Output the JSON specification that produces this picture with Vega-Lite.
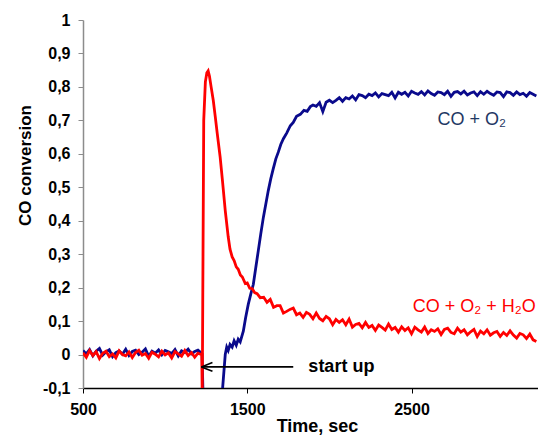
{
  "$schema": "https://vega.github.io/schema/vega-lite/v6.json",
  "width": 455,
  "height": 368,
  "autosize": {"type": "none"},
  "padding": {"left": 83, "top": 20, "right": 0, "bottom": 49},
  "background": "white",
  "config": {
    "view": {"stroke": null},
    "font": "Liberation Sans",
    "axis": {"labelOverlap": false, "labelSeparation": 0}
  },
  "datasets": {
    "blue": [
      {"t":500,"v":0.012},{"t":520,"v":0.002},{"t":540,"v":0.015},{"t":560,"v":-0.004},{"t":580,"v":0.010},{"t":600,"v":0.018},{"t":620,"v":-0.002},{"t":640,"v":0.008},{"t":660,"v":0.014},{"t":680,"v":-0.006},{"t":700,"v":0.006},{"t":720,"v":0.011},{"t":740,"v":0.001},{"t":760,"v":0.016},{"t":780,"v":-0.003},{"t":800,"v":0.009},{"t":820,"v":0.013},{"t":840,"v":0.000},{"t":860,"v":0.007},{"t":880,"v":0.017},{"t":900,"v":-0.005},{"t":920,"v":0.010},{"t":940,"v":0.004},{"t":960,"v":0.014},{"t":980,"v":-0.001},{"t":1000,"v":0.012},{"t":1020,"v":0.008},{"t":1040,"v":0.003},{"t":1060,"v":0.015},{"t":1080,"v":-0.004},{"t":1100,"v":0.011},{"t":1120,"v":0.006},{"t":1140,"v":0.016},{"t":1160,"v":0.002},{"t":1180,"v":0.009},{"t":1200,"v":0.013},{"t":1220,"v":0.005},
      {"t":1225,"v":0.002},{"t":1232,"v":-0.15},{"t":1342,"v":-0.15},{"t":1366,"v":0.0},{"t":1375,"v":0.022},{"t":1384,"v":0.012},{"t":1395,"v":0.030},{"t":1408,"v":0.022},{"t":1420,"v":0.041},{"t":1433,"v":0.028},{"t":1445,"v":0.046},{"t":1457,"v":0.038},{"t":1476,"v":0.07},{"t":1490,"v":0.11},{"t":1506,"v":0.15},{"t":1521,"v":0.18},{"t":1537,"v":0.21},{"t":1552,"v":0.26},{"t":1567,"v":0.31},{"t":1582,"v":0.36},{"t":1598,"v":0.41},{"t":1613,"v":0.45},{"t":1628,"v":0.49},{"t":1643,"v":0.525},{"t":1658,"v":0.555},{"t":1674,"v":0.585},{"t":1689,"v":0.605},{"t":1704,"v":0.628},{"t":1720,"v":0.645},{"t":1740,"v":0.662},{"t":1762,"v":0.684},{"t":1780,"v":0.694},{"t":1800,"v":0.712},{"t":1823,"v":0.718},{"t":1845,"v":0.730},{"t":1865,"v":0.727},{"t":1884,"v":0.741},
      {"t":1900,"v":0.746},{"t":1920,"v":0.742},{"t":1940,"v":0.753},{"t":1960,"v":0.726},{"t":1980,"v":0.754},{"t":2000,"v":0.760},{"t":2020,"v":0.753},{"t":2040,"v":0.760},{"t":2060,"v":0.768},{"t":2080,"v":0.757},{"t":2100,"v":0.768},{"t":2120,"v":0.764},{"t":2140,"v":0.773},{"t":2160,"v":0.761},{"t":2180,"v":0.777},{"t":2200,"v":0.774},{"t":2220,"v":0.768},{"t":2240,"v":0.778},{"t":2260,"v":0.774},{"t":2280,"v":0.782},{"t":2300,"v":0.770},{"t":2320,"v":0.780},{"t":2340,"v":0.777},{"t":2360,"v":0.774},{"t":2380,"v":0.784},{"t":2400,"v":0.767},{"t":2420,"v":0.784},{"t":2440,"v":0.778},{"t":2460,"v":0.784},{"t":2480,"v":0.773},{"t":2500,"v":0.787},{"t":2520,"v":0.782},{"t":2540,"v":0.778},{"t":2560,"v":0.786},{"t":2580,"v":0.776},{"t":2600,"v":0.788},{"t":2620,"v":0.780},{"t":2640,"v":0.775},{"t":2660,"v":0.785},{"t":2680,"v":0.783},{"t":2700,"v":0.777},{"t":2720,"v":0.787},{"t":2740,"v":0.772},{"t":2760,"v":0.784},{"t":2780,"v":0.786},{"t":2800,"v":0.779},{"t":2820,"v":0.787},{"t":2840,"v":0.776},{"t":2860,"v":0.782},{"t":2880,"v":0.785},{"t":2900,"v":0.774},{"t":2920,"v":0.786},{"t":2940,"v":0.778},{"t":2960,"v":0.787},{"t":2980,"v":0.780},{"t":3000,"v":0.775},{"t":3020,"v":0.785},{"t":3040,"v":0.783},{"t":3060,"v":0.771},{"t":3080,"v":0.785},{"t":3100,"v":0.783},{"t":3120,"v":0.775},{"t":3140,"v":0.785},{"t":3160,"v":0.777},{"t":3180,"v":0.781},{"t":3200,"v":0.772},{"t":3220,"v":0.783},{"t":3240,"v":0.778},{"t":3260,"v":0.773}
    ],
    "red": [
      {"t":500,"v":0.005},{"t":520,"v":-0.008},{"t":540,"v":0.012},{"t":560,"v":-0.003},{"t":580,"v":0.009},{"t":600,"v":-0.012},{"t":620,"v":0.004},{"t":640,"v":0.010},{"t":660,"v":-0.006},{"t":680,"v":0.002},{"t":700,"v":-0.010},{"t":720,"v":0.011},{"t":740,"v":0.000},{"t":760,"v":-0.004},{"t":780,"v":0.008},{"t":800,"v":-0.009},{"t":820,"v":0.006},{"t":840,"v":0.013},{"t":860,"v":-0.002},{"t":880,"v":0.003},{"t":900,"v":-0.011},{"t":920,"v":0.007},{"t":940,"v":0.001},{"t":960,"v":-0.007},{"t":980,"v":0.010},{"t":1000,"v":-0.001},{"t":1020,"v":0.005},{"t":1040,"v":-0.010},{"t":1060,"v":0.009},{"t":1080,"v":0.002},{"t":1100,"v":-0.005},{"t":1120,"v":0.012},{"t":1140,"v":-0.003},{"t":1160,"v":0.006},{"t":1180,"v":-0.008},{"t":1200,"v":0.004},{"t":1220,"v":0.000},
      {"t":1223,"v":0.003},{"t":1226,"v":-0.13},{"t":1229,"v":0.15},{"t":1235,"v":0.70},{"t":1245,"v":0.815},{"t":1254,"v":0.842},{"t":1262,"v":0.848},{"t":1270,"v":0.832},{"t":1280,"v":0.80},{"t":1293,"v":0.76},{"t":1305,"v":0.712},{"t":1317,"v":0.662},{"t":1335,"v":0.59},{"t":1348,"v":0.525},{"t":1366,"v":0.43},{"t":1384,"v":0.352},{"t":1395,"v":0.315},{"t":1408,"v":0.292},{"t":1420,"v":0.281},{"t":1433,"v":0.262},{"t":1445,"v":0.255},{"t":1458,"v":0.238},{"t":1470,"v":0.232},{"t":1488,"v":0.212},{"t":1500,"v":0.214},{"t":1515,"v":0.198},{"t":1530,"v":0.197},{"t":1545,"v":0.185},{"t":1560,"v":0.182},{"t":1579,"v":0.170},
      {"t":1600,"v":0.171},{"t":1620,"v":0.156},{"t":1640,"v":0.165},{"t":1660,"v":0.141},{"t":1680,"v":0.146},{"t":1700,"v":0.146},{"t":1720,"v":0.124},{"t":1740,"v":0.129},{"t":1760,"v":0.135},{"t":1780,"v":0.139},{"t":1800,"v":0.119},{"t":1820,"v":0.124},{"t":1840,"v":0.111},{"t":1860,"v":0.126},{"t":1880,"v":0.120},{"t":1900,"v":0.107},{"t":1920,"v":0.124},{"t":1940,"v":0.108},{"t":1960,"v":0.101},{"t":1980,"v":0.114},{"t":2000,"v":0.107},{"t":2020,"v":0.089},{"t":2040,"v":0.105},{"t":2060,"v":0.096},{"t":2080,"v":0.104},{"t":2100,"v":0.089},{"t":2120,"v":0.106},{"t":2140,"v":0.082},{"t":2160,"v":0.090},{"t":2180,"v":0.093},{"t":2200,"v":0.080},{"t":2220,"v":0.096},{"t":2240,"v":0.081},{"t":2260,"v":0.087},{"t":2280,"v":0.072},{"t":2300,"v":0.088},{"t":2320,"v":0.081},{"t":2340,"v":0.073},{"t":2360,"v":0.091},{"t":2380,"v":0.075},{"t":2400,"v":0.081},{"t":2420,"v":0.067},{"t":2440,"v":0.083},{"t":2460,"v":0.072},{"t":2480,"v":0.080},{"t":2500,"v":0.062},{"t":2520,"v":0.082},{"t":2540,"v":0.074},{"t":2560,"v":0.067},{"t":2580,"v":0.082},{"t":2600,"v":0.063},{"t":2620,"v":0.074},{"t":2640,"v":0.069},{"t":2660,"v":0.077},{"t":2680,"v":0.060},{"t":2700,"v":0.075},{"t":2720,"v":0.079},{"t":2740,"v":0.066},{"t":2760,"v":0.062},{"t":2780,"v":0.079},{"t":2800,"v":0.067},{"t":2820,"v":0.074},{"t":2840,"v":0.059},{"t":2860,"v":0.068},{"t":2880,"v":0.075},{"t":2900,"v":0.054},{"t":2920,"v":0.070},{"t":2940,"v":0.062},{"t":2960,"v":0.074},{"t":2980,"v":0.058},{"t":3000,"v":0.065},{"t":3020,"v":0.069},{"t":3040,"v":0.054},{"t":3060,"v":0.066},{"t":3080,"v":0.057},{"t":3100,"v":0.071},{"t":3120,"v":0.058},{"t":3140,"v":0.049},{"t":3160,"v":0.063},{"t":3180,"v":0.059},{"t":3200,"v":0.048},{"t":3220,"v":0.061},{"t":3240,"v":0.044},{"t":3260,"v":0.039}
    ],
    "arrow": [
      {"t":1780,"v":-0.037,"t2":1221,"v2":-0.037},
      {"t":1221,"v":-0.037,"t2":1288,"v2":-0.024},
      {"t":1221,"v":-0.037,"t2":1288,"v2":-0.050}
    ],
    "startup": [{"t":1872,"v":-0.037,"txt":"start up"}],
    "blueLabel": [{"t":2658,"v":0.70,"txt":"CO + O₂"}],
    "redLabel": [{"t":3256,"v":0.142,"txt":"CO + O₂ + H₂O"}]
  },
  "layer": [
    {
      "data": {"name": "blue"},
      "mark": {"type": "line", "color": "#0a0a8c", "strokeWidth": 2.8, "clip": true},
      "encoding": {
        "x": {
          "field": "t", "type": "quantitative",
          "scale": {"domain": [500, 3270], "nice": false, "zero": false},
          "axis": {
            "values": [500, 1500, 2500],
            "format": "d",
            "title": "Time, sec",
            "titleFont": "Liberation Sans", "titleFontSize": 18, "titleFontWeight": "bold", "titleColor": "black",
            "titleX": 234, "titleY": 43, "titleBaseline": "alphabetic", "titleAnchor": null,
            "labelFont": "Liberation Sans", "labelFontSize": 16, "labelFontWeight": "bold", "labelColor": "black",
            "labelPadding": 8, "labelOverlap": false,
            "grid": false, "domainColor": "black", "domainWidth": 1.5, "tickColor": "black", "tickSize": 5,
            "labelFlush": false
          }
        },
        "y": {
          "field": "v", "type": "quantitative",
          "scale": {"domain": [-0.1, 1], "nice": false, "zero": false},
          "axis": {
            "values": [-0.1, 0, 0.1, 0.2, 0.3, 0.4, 0.5, 0.6, 0.7, 0.8, 0.9, 1],
            "tickCount": 12,
            "format": ".1~f",
            "labelExpr": "replace(replace(datum.label, '.', ','), '−', '-')",
            "title": "CO conversion",
            "titleFont": "Liberation Sans", "titleFontSize": 17, "titleFontWeight": "bold", "titleColor": "black",
            "titleX": -53, "titleY": 145, "titleAngle": -90, "titleAlign": "center", "titleBaseline": "alphabetic",
            "labelFont": "Liberation Sans", "labelFontSize": 16, "labelFontWeight": "bold", "labelColor": "black",
            "labelPadding": 8, "labelFlush": false, "labelOverlap": false, "labelSeparation": 0,
            "grid": false, "domainColor": "#8c8c8c", "domainWidth": 1.5, "tickColor": "#8c8c8c", "tickSize": 5
          }
        }
      }
    },
    {
      "data": {"name": "red"},
      "mark": {"type": "line", "color": "#ff0000", "strokeWidth": 2.8, "clip": true},
      "encoding": {
        "x": {"field": "t", "type": "quantitative"},
        "y": {"field": "v", "type": "quantitative"}
      }
    },
    {
      "data": {"name": "arrow"},
      "mark": {"type": "rule", "color": "black", "strokeWidth": 1.6},
      "encoding": {
        "x": {"field": "t", "type": "quantitative"},
        "y": {"field": "v", "type": "quantitative"},
        "x2": {"field": "t2"},
        "y2": {"field": "v2"}
      }
    },
    {
      "data": {"name": "startup"},
      "mark": {"type": "text", "align": "left", "baseline": "middle", "font": "Liberation Sans", "fontSize": 18, "fontWeight": "bold", "color": "black"},
      "encoding": {
        "x": {"field": "t", "type": "quantitative"},
        "y": {"field": "v", "type": "quantitative"},
        "text": {"field": "txt"}
      }
    },
    {
      "data": {"name": "blueLabel"},
      "mark": {"type": "text", "align": "left", "baseline": "middle", "font": "Liberation Sans", "fontSize": 18, "fontWeight": "normal", "color": "#1f3864"},
      "encoding": {
        "x": {"field": "t", "type": "quantitative"},
        "y": {"field": "v", "type": "quantitative"},
        "text": {"field": "txt"}
      }
    },
    {
      "data": {"name": "redLabel"},
      "mark": {"type": "text", "align": "right", "baseline": "middle", "font": "Liberation Sans", "fontSize": 18, "fontWeight": "normal", "color": "#ff0000"},
      "encoding": {
        "x": {"field": "t", "type": "quantitative"},
        "y": {"field": "v", "type": "quantitative"},
        "text": {"field": "txt"}
      }
    }
  ]
}
